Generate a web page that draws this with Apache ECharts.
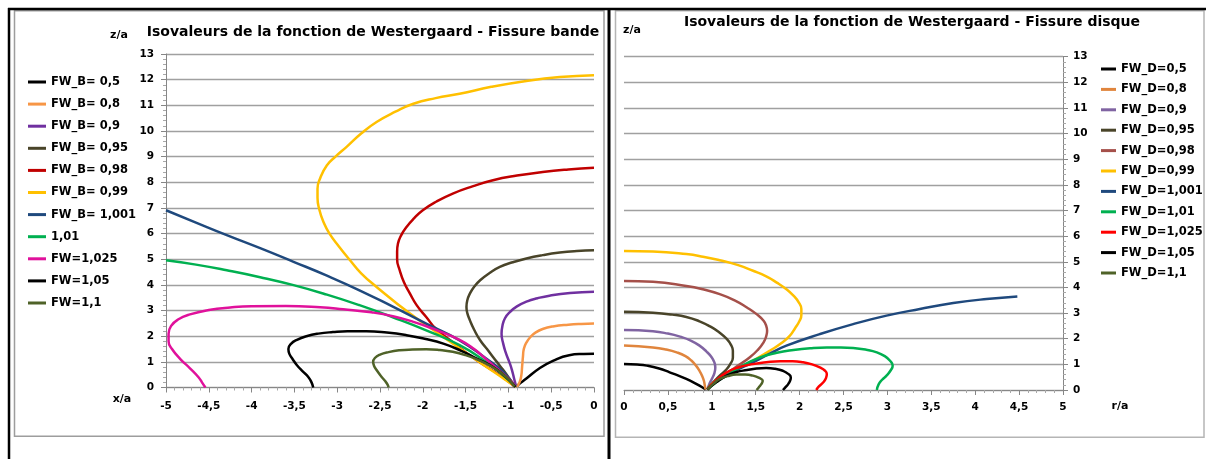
<!DOCTYPE html>
<html>
<head>
<meta charset="utf-8">
<script src="https://cdn.jsdelivr.net/npm/echarts@6/dist/echarts.min.js"></script>
<style>
  html, body { margin: 0; padding: 0; background: #fff; }
  #chart { width: 1210px; height: 459px; }
</style>
</head>
<body>
<div id="chart"></div>
<script>
// Fissure bande : isovaleurs [x/a, z/a]
var fwB05 = [[-0.90, 0.03], [-0.89, 0.09], [-0.79, 0.35], [-0.64, 0.74], [-0.48, 1.04], [-0.29, 1.26], [-0.12, 1.31], [0, 1.32]];
var fwB08 = [[-0.90, 0.03], [-0.87, 0.20], [-0.85, 0.45], [-0.84, 0.80], [-0.83, 1.20], [-0.82, 1.50], [-0.79, 1.75], [-0.74, 1.98], [-0.68, 2.15], [-0.60, 2.28], [-0.48, 2.38], [-0.30, 2.45], [-0.15, 2.48], [0, 2.49]];
var fwB09 = [[-0.91, 0.05], [-0.93, 0.30], [-0.96, 0.70], [-0.99, 1.00], [-1.03, 1.35], [-1.06, 1.70], [-1.08, 2.10], [-1.07, 2.40], [-1.04, 2.70], [-0.98, 2.95], [-0.90, 3.16], [-0.78, 3.36], [-0.66, 3.48], [-0.52, 3.58], [-0.28, 3.68], [0, 3.73]];
var fwB095 = [[-0.93, 0.05], [-1.03, 0.55], [-1.10, 0.85], [-1.18, 1.19], [-1.25, 1.50], [-1.33, 1.84], [-1.40, 2.25], [-1.45, 2.62], [-1.48, 2.90], [-1.49, 3.14], [-1.48, 3.40], [-1.45, 3.66], [-1.40, 3.93], [-1.33, 4.18], [-1.22, 4.46], [-1.10, 4.70], [-0.95, 4.88], [-0.79, 5.03], [-0.60, 5.16], [-0.40, 5.26], [-0.20, 5.32], [0, 5.35]];
var fwB098 = [[-0.93, 0.05], [-1.10, 0.48], [-1.37, 1.06], [-1.68, 1.84], [-1.85, 2.30], [-1.96, 2.75], [-2.07, 3.20], [-2.15, 3.66], [-2.22, 4.10], [-2.27, 4.57], [-2.30, 5.00], [-2.30, 5.30], [-2.29, 5.61], [-2.25, 5.95], [-2.19, 6.26], [-2.10, 6.60], [-2.00, 6.91], [-1.84, 7.25], [-1.65, 7.56], [-1.42, 7.84], [-1.18, 8.08], [-0.90, 8.26], [-0.60, 8.40], [-0.30, 8.50], [0, 8.57]];
var fwB099 = [[-0.91, 0.03], [-1.00, 0.22], [-1.10, 0.45], [-1.37, 1.06], [-1.76, 1.97], [-2.15, 2.88], [-2.54, 3.92], [-2.72, 4.45], [-2.85, 4.96], [-2.98, 5.50], [-3.09, 6.00], [-3.16, 6.45], [-3.21, 6.95], [-3.23, 7.40], [-3.23, 7.75], [-3.20, 8.15], [-3.12, 8.66], [-3.02, 9.00], [-2.89, 9.38], [-2.72, 9.90], [-2.54, 10.35], [-2.32, 10.75], [-2.11, 11.06], [-1.85, 11.28], [-1.57, 11.45], [-1.20, 11.72], [-0.79, 11.95], [-0.40, 12.10], [0, 12.17]];
var fwB1001 = [[-0.92, 0.03], [-1.06, 0.61], [-1.26, 1.13], [-1.57, 1.84], [-1.96, 2.49], [-2.35, 3.15], [-2.74, 3.79], [-3.12, 4.36], [-3.51, 4.90], [-3.90, 5.43], [-4.29, 5.94], [-4.65, 6.43], [-5, 6.91]];
var fwB101 = [[-0.93, 0.09], [-1.06, 0.48], [-1.26, 1.00], [-1.57, 1.65], [-1.96, 2.23], [-2.35, 2.74], [-2.74, 3.21], [-3.12, 3.62], [-3.51, 3.99], [-3.90, 4.30], [-4.29, 4.57], [-4.65, 4.79], [-5, 4.96]];
var fwB1025 = [[-0.93, 0.09], [-1.00, 0.35], [-1.12, 0.70], [-1.26, 1.10], [-1.40, 1.50], [-1.57, 1.86], [-1.85, 2.25], [-2.10, 2.55], [-2.35, 2.78], [-2.60, 2.93], [-2.93, 3.05], [-3.20, 3.13], [-3.60, 3.18], [-4.00, 3.17], [-4.25, 3.12], [-4.50, 3.02], [-4.72, 2.85], [-4.86, 2.65], [-4.94, 2.40], [-4.97, 2.10], [-4.97, 1.80], [-4.93, 1.50], [-4.83, 1.10], [-4.72, 0.75], [-4.62, 0.40], [-4.57, 0.15], [-4.54, 0]];
var fwB105 = [[-0.92, 0.02], [-0.98, 0.25], [-1.10, 0.61], [-1.22, 0.88], [-1.37, 1.13], [-1.55, 1.43], [-1.76, 1.71], [-1.98, 1.90], [-2.19, 2.04], [-2.42, 2.14], [-2.66, 2.19], [-2.88, 2.19], [-3.05, 2.16], [-3.22, 2.10], [-3.36, 2.00], [-3.47, 1.86], [-3.54, 1.70], [-3.57, 1.50], [-3.56, 1.32], [-3.52, 1.10], [-3.47, 0.87], [-3.40, 0.62], [-3.34, 0.42], [-3.30, 0.20], [-3.28, 0]];
var fwB11 = [[-0.93, 0.03], [-0.97, 0.22], [-1.04, 0.45], [-1.10, 0.61], [-1.22, 0.86], [-1.34, 1.06], [-1.50, 1.26], [-1.65, 1.39], [-1.80, 1.46], [-1.96, 1.49], [-2.12, 1.48], [-2.27, 1.45], [-2.40, 1.38], [-2.50, 1.28], [-2.56, 1.15], [-2.58, 1.00], [-2.57, 0.85], [-2.54, 0.68], [-2.49, 0.45], [-2.44, 0.25], [-2.41, 0.10], [-2.40, 0]];

// Fissure disque : [r/a, z/a]
var fwD05 = [[0, 1.01], [0.15, 0.99], [0.26, 0.95], [0.40, 0.84], [0.52, 0.69], [0.62, 0.56], [0.71, 0.43], [0.79, 0.30], [0.86, 0.17], [0.93, 0.02]];
var fwD08 = [[0, 1.74], [0.33, 1.66], [0.48, 1.58], [0.60, 1.47], [0.70, 1.32], [0.77, 1.14], [0.82, 0.95], [0.86, 0.75], [0.89, 0.55], [0.91, 0.36], [0.92, 0.18], [0.93, 0.02]];
var fwD09 = [[0, 2.34], [0.33, 2.29], [0.50, 2.20], [0.64, 2.08], [0.76, 1.93], [0.86, 1.73], [0.94, 1.50], [1.00, 1.27], [1.03, 1.07], [1.04, 0.88], [1.03, 0.66], [1.00, 0.43], [0.97, 0.22], [0.95, 0.02]];
var fwD095 = [[0, 3.05], [0.33, 3.01], [0.55, 2.94], [0.71, 2.85], [0.86, 2.68], [0.98, 2.48], [1.08, 2.26], [1.17, 1.99], [1.22, 1.75], [1.24, 1.53], [1.24, 1.27], [1.21, 1.01], [1.16, 0.78], [1.09, 0.56], [1.03, 0.35], [0.98, 0.17], [0.95, 0.02]];
var fwD098 = [[0, 4.25], [0.33, 4.22], [0.71, 4.06], [0.90, 3.93], [1.09, 3.74], [1.26, 3.50], [1.40, 3.22], [1.51, 2.96], [1.59, 2.70], [1.62, 2.50], [1.63, 2.31], [1.62, 2.10], [1.59, 1.86], [1.52, 1.55], [1.43, 1.27], [1.32, 1.00], [1.21, 0.75], [1.12, 0.52], [1.04, 0.30], [0.98, 0.12], [0.95, 0.02]];
var fwD099 = [[0, 5.42], [0.33, 5.40], [0.71, 5.30], [0.90, 5.20], [1.09, 5.06], [1.30, 4.87], [1.47, 4.65], [1.62, 4.43], [1.74, 4.19], [1.85, 3.93], [1.93, 3.68], [1.99, 3.42], [2.02, 3.16], [2.02, 2.93], [2.00, 2.70], [1.95, 2.42], [1.89, 2.12], [1.79, 1.82], [1.66, 1.53], [1.53, 1.26], [1.40, 1.01], [1.28, 0.80], [1.17, 0.62], [1.07, 0.40], [1.00, 0.23], [0.95, 0.02]];
var fwD1001 = [[0.95, 0.02], [1.09, 0.43], [1.28, 0.78], [1.47, 1.08], [1.66, 1.42], [1.85, 1.73], [2.23, 2.18], [2.61, 2.57], [2.99, 2.90], [3.37, 3.16], [3.75, 3.39], [4.13, 3.55], [4.48, 3.65]];
var fwD101 = [[0.95, 0.02], [1.05, 0.30], [1.17, 0.56], [1.35, 0.95], [1.55, 1.27], [1.74, 1.45], [1.93, 1.56], [2.12, 1.63], [2.31, 1.66], [2.47, 1.66], [2.61, 1.64], [2.76, 1.57], [2.88, 1.47], [2.97, 1.32], [3.03, 1.14], [3.06, 0.95], [3.04, 0.78], [2.99, 0.56], [2.94, 0.40], [2.90, 0.22], [2.88, 0]];
var fwD1025 = [[0.95, 0.02], [1.05, 0.38], [1.17, 0.69], [1.30, 0.88], [1.47, 1.01], [1.62, 1.08], [1.78, 1.12], [1.92, 1.12], [2.04, 1.08], [2.15, 0.99], [2.23, 0.88], [2.29, 0.75], [2.31, 0.62], [2.30, 0.46], [2.27, 0.30], [2.22, 0.14], [2.19, 0]];
var fwD105 = [[0.95, 0.02], [1.05, 0.30], [1.17, 0.56], [1.28, 0.70], [1.40, 0.78], [1.51, 0.84], [1.62, 0.86], [1.72, 0.83], [1.81, 0.75], [1.87, 0.63], [1.90, 0.49], [1.89, 0.35], [1.87, 0.23], [1.84, 0.11], [1.81, 0]];
var fwD11 = [[0.95, 0.02], [1.02, 0.25], [1.09, 0.43], [1.18, 0.54], [1.28, 0.60], [1.38, 0.60], [1.47, 0.56], [1.54, 0.47], [1.58, 0.36], [1.57, 0.26], [1.55, 0.17], [1.53, 0.08], [1.51, 0]];

var namesB = ['FW_B= 0,5', 'FW_B= 0,8', 'FW_B= 0,9', 'FW_B= 0,95', 'FW_B= 0,98', 'FW_B= 0,99', 'FW_B= 1,001', '1,01', 'FW=1,025', 'FW=1,05', 'FW=1,1'];
var dataB = [fwB05, fwB08, fwB09, fwB095, fwB098, fwB099, fwB1001, fwB101, fwB1025, fwB105, fwB11];
var colorsB = ['#000000', '#f79646', '#7030a0', '#494429', '#c00000', '#ffc000', '#1f497d', '#00b050', '#e0119b', '#000000', '#4f6228'];

var namesD = ['FW_D=0,5', 'FW_D=0,8', 'FW_D=0,9', 'FW_D=0,95', 'FW_D=0,98', 'FW_D=0,99', 'FW_D=1,001', 'FW_D=1,01', 'FW_D=1,025', 'FW_D=1,05', 'FW_D=1,1'];
var dataD = [fwD05, fwD08, fwD09, fwD095, fwD098, fwD099, fwD1001, fwD101, fwD1025, fwD105, fwD11];
var colorsD = ['#000000', '#e0853d', '#8064a2', '#494429', '#a5504a', '#ffc000', '#1f497d', '#00b050', '#ff0000', '#000000', '#4f6228'];

var FONT = 'DejaVu Sans';
var AXIS_COL = '#868686';

function fmt(v) { return String(v).replace('.', ','); }

function valueAxis(grid, min, max, interval, position, margin) {
    return {
        gridIndex: grid,
        type: 'value',
        min: min,
        max: max,
        interval: interval,
        position: position,
        axisLine: { show: true, onZero: false, lineStyle: { color: AXIS_COL, width: 1 } },
        axisTick: { show: true, length: 5, lineStyle: { color: AXIS_COL } },
        minorTick: { show: true, splitNumber: 5, length: 3, lineStyle: { color: '#a8a8a8' } },
        axisLabel: { margin: margin, color: '#000', fontSize: 10.5, fontWeight: 'bold', fontFamily: FONT, formatter: fmt },
        splitLine: { show: false }
    };
}

function makeSeries(names, datas, colors, idx) {
    var out = [];
    for (var i = 0; i < names.length; i++) {
        out.push({
            type: 'line',
            name: names[i],
            xAxisIndex: idx,
            yAxisIndex: idx,
            data: datas[i],
            smooth: 0.5,
            showSymbol: false,
            symbol: 'none',
            itemStyle: { color: colors[i] },
            lineStyle: { color: colors[i], width: 2.5 }
        });
    }
    return out;
}

var legendText = { color: '#000', fontSize: 11.5, fontWeight: 'bold', fontFamily: FONT };

var yB = valueAxis(0, 0, 13, 1, 'left', 12);
yB.splitLine = { show: true, lineStyle: { color: '#a0a0a0', width: 1.3 } };
yB.axisLabel.formatter = null;
var yD = valueAxis(1, 0, 13, 1, 'right', 10);
yD.splitLine = { show: true, lineStyle: { color: '#a0a0a0', width: 1.3 } };
yD.axisLabel.formatter = null;

var option = {
    animation: false,
    backgroundColor: '#fff',
    title: [{
        text: 'Isovaleurs de la fonction de Westergaard - Fissure bande',
        left: 373, top: 25, textAlign: 'center', padding: 0,
        textStyle: { color: '#000', fontSize: 14, fontWeight: 'bold', fontFamily: FONT }
    }, {
        text: 'Isovaleurs de la fonction de Westergaard - Fissure disque',
        left: 912, top: 15, textAlign: 'center', padding: 0,
        textStyle: { color: '#000', fontSize: 14, fontWeight: 'bold', fontFamily: FONT }
    }],
    legend: [{
        orient: 'vertical', left: 28, top: 76, padding: 0,
        itemWidth: 18, itemHeight: 14, itemGap: 10.1,
        icon: 'path://M0,0H18V3H0Z',
        textStyle: legendText,
        data: namesB
    }, {
        orient: 'vertical', left: 1101, top: 63, padding: 0,
        itemWidth: 15, itemHeight: 14, itemGap: 8.4,
        icon: 'path://M0,0H15V3H0Z',
        textStyle: legendText,
        data: namesD
    }],
    grid: [
        { left: 166, top: 54, width: 428, height: 333.5 },
        { left: 624, top: 56.7, width: 439, height: 333.3 }
    ],
    xAxis: [valueAxis(0, -5, 0, 0.5, 'bottom', 13), valueAxis(1, 0, 5, 0.5, 'bottom', 12)],
    yAxis: [yB, yD],
    graphic: [
        { type: 'rect', shape: { x: 14.5, y: 10.75, width: 589.5, height: 425.5 }, style: { fill: 'none', stroke: '#9d9d9d', lineWidth: 1.5 } },
        { type: 'rect', shape: { x: 615.5, y: 10.75, width: 588.5, height: 426.5 }, style: { fill: 'none', stroke: '#b5b5b5', lineWidth: 1.5 } },
        { type: 'line', shape: { x1: 8, y1: 9, x2: 1206, y2: 9 }, style: { stroke: '#000', lineWidth: 2.5 } },
        { type: 'line', shape: { x1: 9, y1: 8, x2: 9, y2: 459 }, style: { stroke: '#000', lineWidth: 2.5 } },
        { type: 'line', shape: { x1: 609, y1: 8, x2: 609, y2: 459 }, style: { stroke: '#000', lineWidth: 3 } },
        { type: 'text', style: { text: 'z/a', x: 119, y: 35, align: 'center', verticalAlign: 'middle', textAlign: 'center', textVerticalAlign: 'middle', fill: '#000', font: 'bold 11px "DejaVu Sans"' } },
        { type: 'text', style: { text: 'x/a', x: 122, y: 399, align: 'center', verticalAlign: 'middle', textAlign: 'center', textVerticalAlign: 'middle', fill: '#000', font: 'bold 11px "DejaVu Sans"' } },
        { type: 'text', style: { text: 'z/a', x: 632, y: 30, align: 'center', verticalAlign: 'middle', textAlign: 'center', textVerticalAlign: 'middle', fill: '#000', font: 'bold 11px "DejaVu Sans"' } },
        { type: 'text', style: { text: 'r/a', x: 1120, y: 406, align: 'center', verticalAlign: 'middle', textAlign: 'center', textVerticalAlign: 'middle', fill: '#000', font: 'bold 11px "DejaVu Sans"' } }
    ],
    series: makeSeries(namesB, dataB, colorsB, 0).concat(makeSeries(namesD, dataD, colorsD, 1))
};

var chart = echarts.init(document.getElementById('chart'));
chart.setOption(option);
</script>
</body>
</html>
